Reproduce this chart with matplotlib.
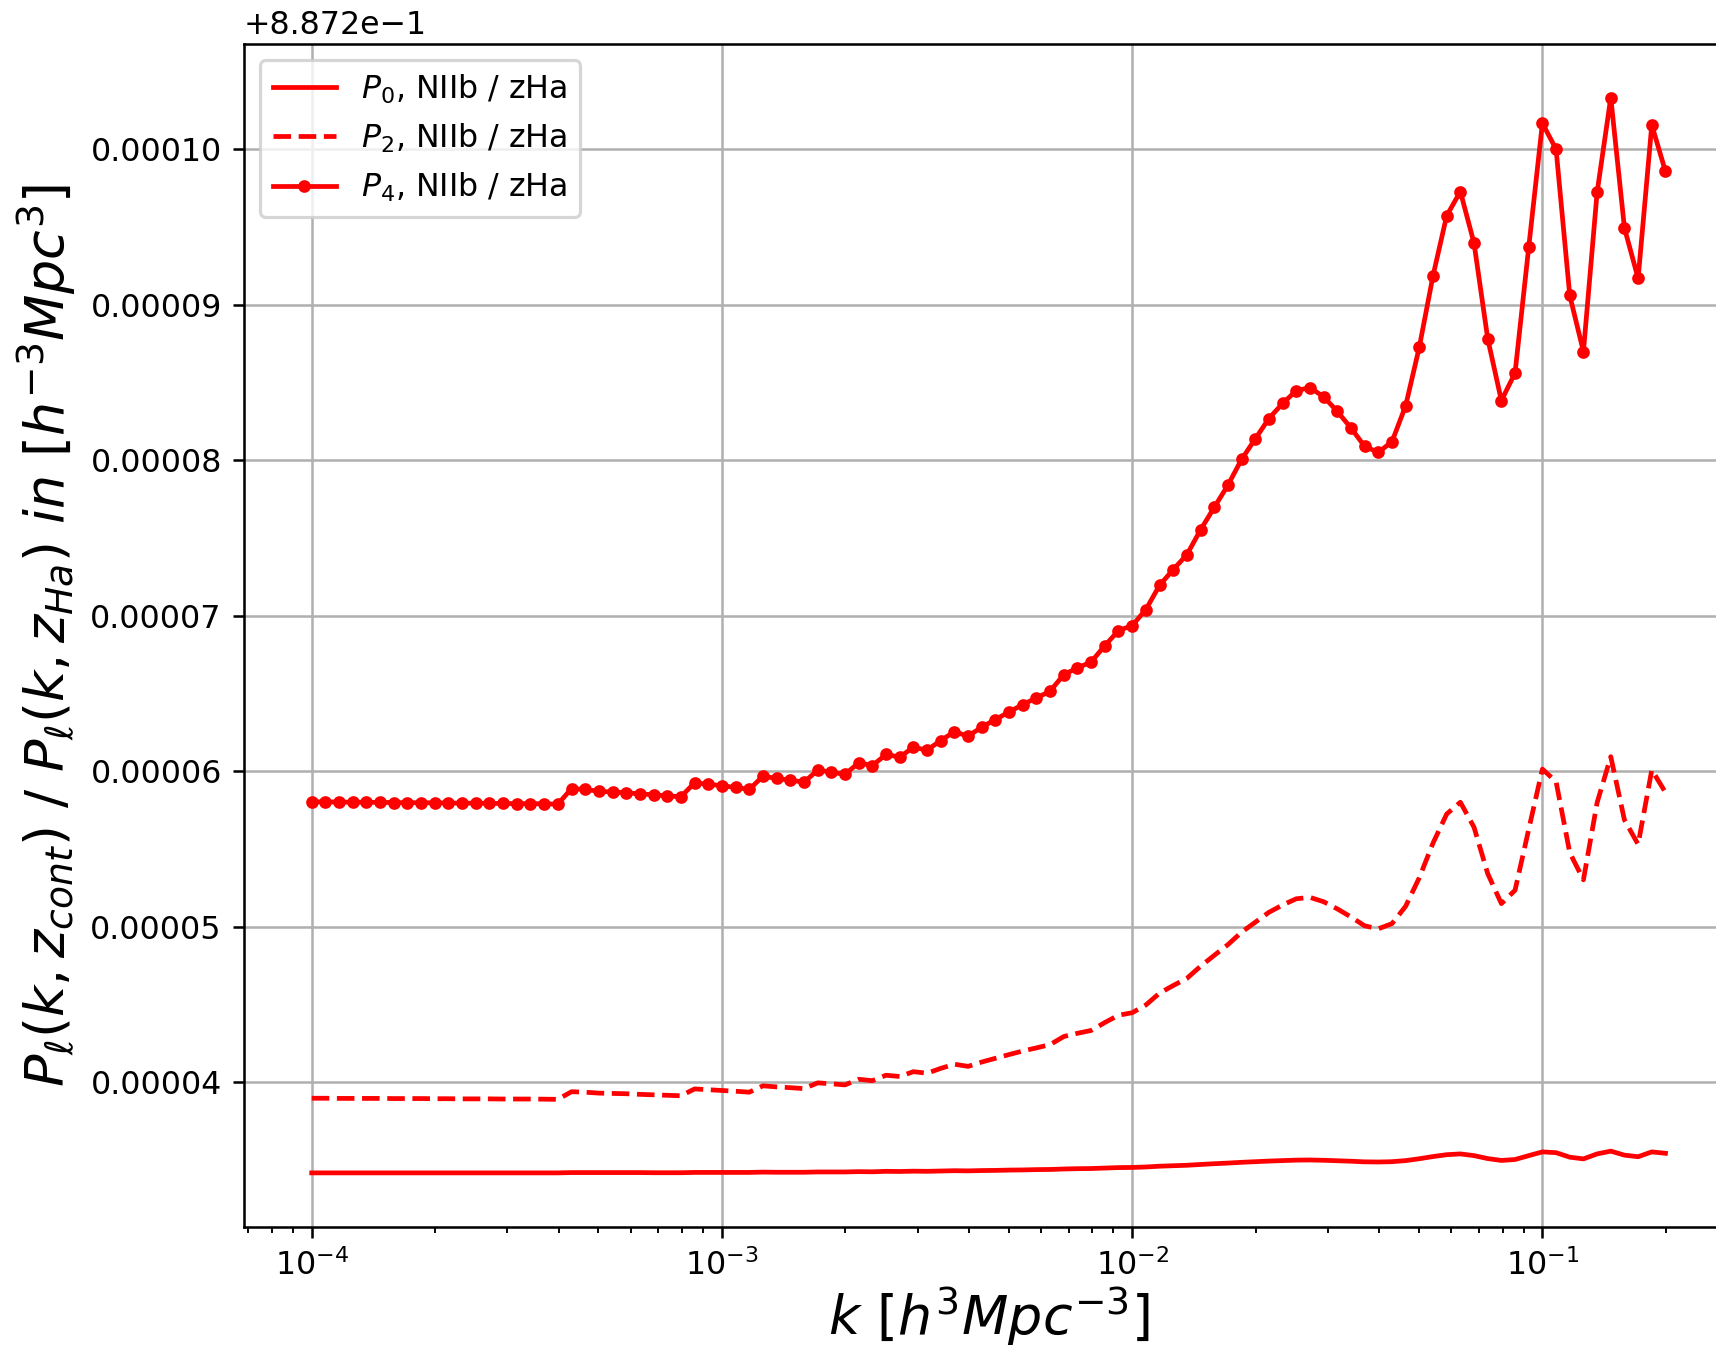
import numpy as np
import matplotlib
matplotlib.use("Agg")
import matplotlib.pyplot as plt

# k grid: 30 points per decade, 1e-4 .. ~0.2
k = np.logspace(-4, -0.7, 100)

offset = 0.8872
scale = 1e-5

# values in units of 1e-5 above the offset
p4_vals = [5.803, 5.802, 5.801, 5.800, 5.800, 5.799, 5.798, 5.797, 5.797, 5.796,
           5.795, 5.794, 5.794, 5.793, 5.792, 5.791, 5.791, 5.790, 5.787, 5.888,
           5.882, 5.871, 5.865, 5.861, 5.854, 5.848, 5.841, 5.835, 5.925, 5.916,
           5.906, 5.895, 5.882, 5.968, 5.953, 5.942, 5.929, 6.006, 5.994, 5.979,
           6.054, 6.036, 6.107, 6.090, 6.154, 6.135, 6.197, 6.253, 6.225, 6.283,
           6.332, 6.381, 6.428, 6.471, 6.514, 6.621, 6.664, 6.702, 6.807, 6.904,
           6.936, 7.039, 7.195, 7.296, 7.392, 7.552, 7.696, 7.839, 8.005, 8.137,
           8.268, 8.365, 8.447, 8.467, 8.408, 8.314, 8.207, 8.089, 8.050, 8.119,
           8.350, 8.728, 9.186, 9.572, 9.728, 9.396, 8.782, 8.383, 8.561, 9.370,
           10.167, 10.000, 9.060, 8.698, 9.722, 10.332, 9.493, 9.169, 10.156, 9.857]

p2_vals = [3.896, 3.896, 3.895, 3.895, 3.895, 3.895, 3.894, 3.894, 3.894, 3.893,
           3.893, 3.892, 3.892, 3.892, 3.891, 3.891, 3.891, 3.890, 3.889, 3.938,
           3.935, 3.929, 3.927, 3.925, 3.921, 3.918, 3.915, 3.912, 3.956, 3.951,
           3.946, 3.941, 3.935, 3.976, 3.969, 3.964, 3.958, 3.995, 3.989, 3.982,
           4.018, 4.009, 4.044, 4.036, 4.067, 4.057, 4.088, 4.115, 4.101, 4.129,
           4.153, 4.177, 4.200, 4.220, 4.241, 4.293, 4.314, 4.332, 4.383, 4.430,
           4.446, 4.496, 4.572, 4.621, 4.667, 4.745, 4.815, 4.884, 4.964, 5.028,
           5.092, 5.139, 5.179, 5.188, 5.160, 5.114, 5.062, 5.005, 4.986, 5.019,
           5.131, 5.315, 5.537, 5.724, 5.800, 5.639, 5.341, 5.148, 5.234, 5.626,
           6.013, 5.932, 5.476, 5.301, 5.797, 6.093, 5.686, 5.529, 6.008, 5.863]

p0_vals = [3.416, 3.416, 3.416, 3.416, 3.416, 3.416, 3.416, 3.416, 3.416, 3.416,
           3.416, 3.416, 3.416, 3.416, 3.416, 3.416, 3.416, 3.416, 3.416, 3.418,
           3.418, 3.418, 3.418, 3.418, 3.418, 3.417, 3.417, 3.417, 3.419, 3.419,
           3.419, 3.419, 3.419, 3.421, 3.420, 3.420, 3.420, 3.422, 3.422, 3.422,
           3.424, 3.423, 3.426, 3.425, 3.427, 3.426, 3.428, 3.430, 3.429, 3.431,
           3.432, 3.434, 3.435, 3.437, 3.438, 3.441, 3.443, 3.444, 3.447, 3.450,
           3.451, 3.454, 3.459, 3.462, 3.465, 3.470, 3.475, 3.479, 3.484, 3.488,
           3.492, 3.495, 3.498, 3.499, 3.497, 3.494, 3.491, 3.487, 3.486, 3.488,
           3.495, 3.507, 3.521, 3.533, 3.538, 3.527, 3.508, 3.496, 3.502, 3.527,
           3.551, 3.546, 3.517, 3.506, 3.538, 3.556, 3.530, 3.520, 3.551, 3.542]

p0 = offset + np.array(p0_vals) * scale
p2 = offset + np.array(p2_vals) * scale
p4 = offset + np.array(p4_vals) * scale

dpi = 228
fig = plt.figure(figsize=(1716 / dpi, 1349 / dpi), dpi=dpi)
# axes runs past the right edge of the picture, as in the original
ax = fig.add_axes([0.1422, 0.0907, 0.8678, 0.8768])

ax.plot(k, p0, "r-", label=r"$P_0$, NIIb / zHa")
ax.plot(k, p2, "r--", label=r"$P_2$, NIIb / zHa")
ax.plot(k, p4, "r.-", label=r"$P_4$, NIIb / zHa")

ax.set_xscale("log")
ax.ticklabel_format(axis="y", useOffset=offset, scilimits=(-6, 6))
ax.set_xlabel(r"$k\ [h^3Mpc^{-3}]$", fontsize=17, labelpad=1)
ax.set_ylabel(r"$P_\ell(k, z_{cont})$ / $P_\ell(k, z_{Ha})$ $in\ [h^{-3}Mpc^3]$", fontsize=17)
ax.grid()
ax.legend(loc="upper left")

fig.savefig("out.png", dpi=dpi)
